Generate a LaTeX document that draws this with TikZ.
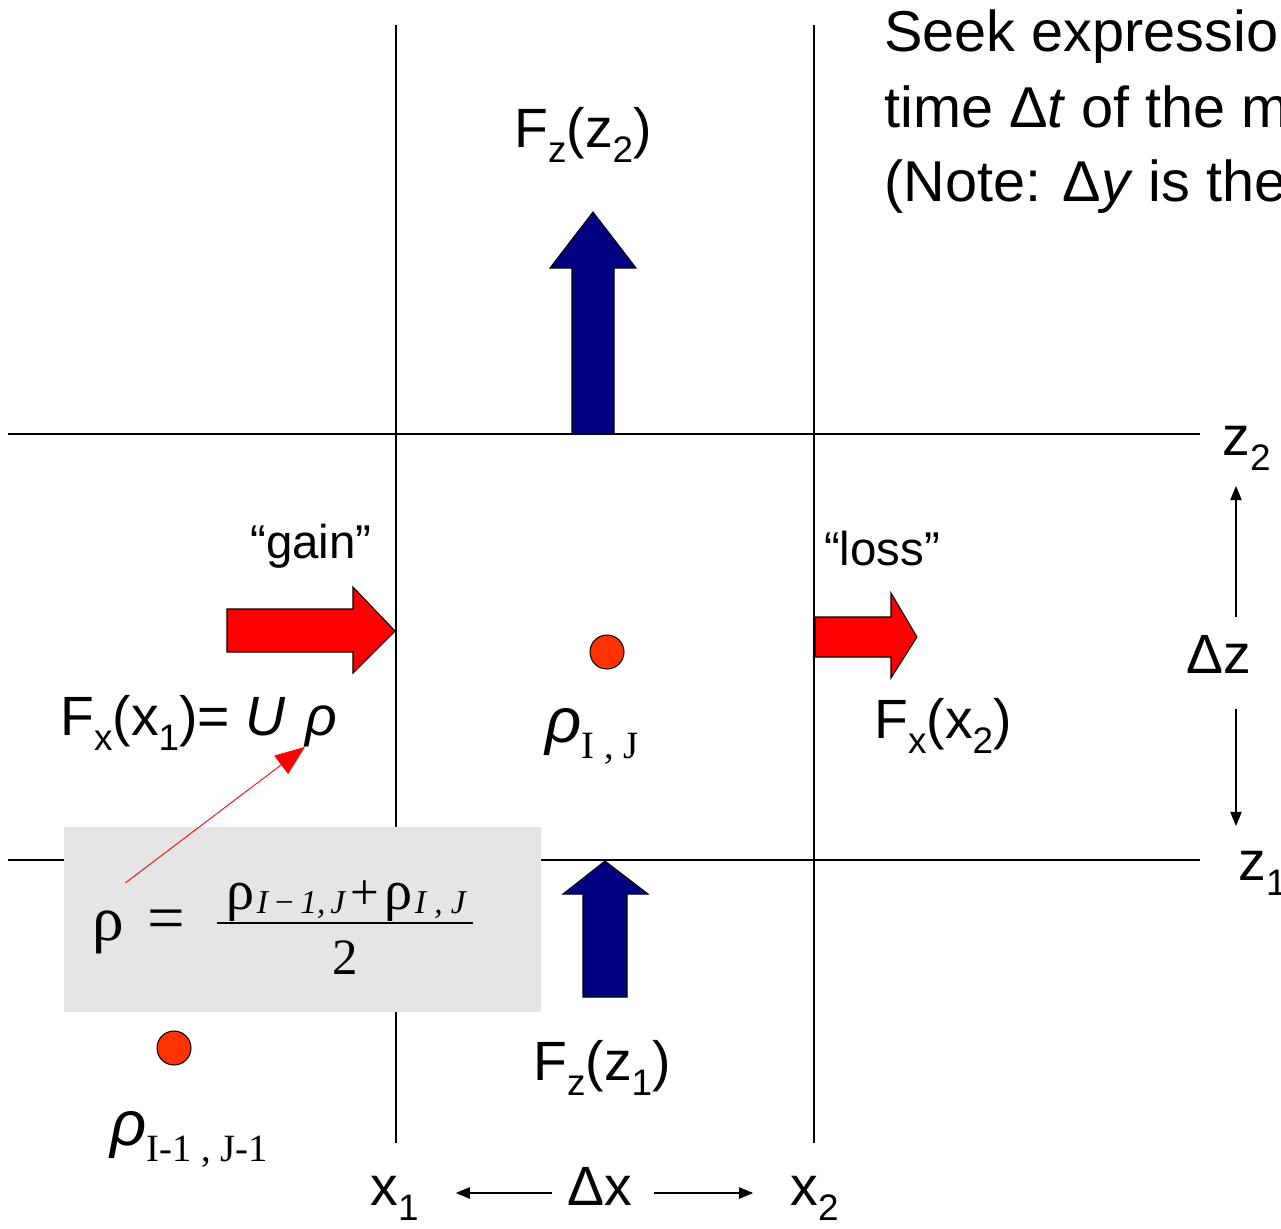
\documentclass[tikz,border=0pt]{standalone}
\usepackage{fontspec}
\setmainfont{Liberation Sans}
\newfontfamily\serifgr{Liberation Serif}
\usetikzlibrary{arrows.meta}

\definecolor{fluxblue}{RGB}{0,0,128}
\definecolor{cellred}{RGB}{255,51,0}
\newcommand{\lowsub}[1]{\raisebox{-0.3em}{\fontsize{22}{23}\selectfont #1}}
\newcommand{\fracsub}[1]{\raisebox{-0.08em}{\fontsize{19}{20}\selectfont\itshape #1}}
\newcommand{\sansub}[1]{\raisebox{-0.28em}{\fontsize{21}{22}\selectfont #1}}
\newcommand{\bigrho}{{\fontsize{36}{40}\selectfont\textit{ρ}}}
\newcommand{\boxrho}{{\fontsize{36}{40}\selectfont ρ}}
\newcommand{\numrho}{{\fontsize{32}{36}\selectfont ρ}}

\tikzset{
  biglabel/.style={font=\fontsize{31.5}{37}\selectfont, inner sep=0pt},
  notelabel/.style={font=\fontsize{32.8}{39}\selectfont, inner sep=0pt},
  quotelabel/.style={font=\fontsize{27}{32}\selectfont, inner sep=0pt},
  gridline/.style={line width=1pt},
  fluxz/.style={draw=black, fill=fluxblue, line width=0.6pt},
  fluxx/.style={draw=black, fill=red, line width=0.6pt},
  cell/.style={circle, draw=black, fill=cellred, line width=0.6pt, minimum size=0.68cm, inner sep=0pt},
  span/.style={-{Triangle[length=8pt,width=6.5pt]}, line width=0.6pt},
  serifmath/.style={font=\fontsize{29}{34}\selectfont\serifgr, inner sep=0pt}
}

\begin{document}
\begin{tikzpicture}[>=stealth, x=0.02cm, y=-0.02cm]
        \clip (0,0) rectangle (1281,1228);

        % Grid lines
        \foreach \xx in {396, 814} {
            \draw[gridline] (\xx, 25) -- (\xx, 1143);
        }
        \foreach \zz in {434, 860} {
            \draw[gridline] (8, \zz) -- (1200, \zz);
        }

        % Note text (cut at the right edge)
        \node[notelabel, anchor=base west] (note1) at (884, 51) {Seek expressio};
        \node[notelabel, anchor=base west] (note2) at (884, 127) {time \symbol{"0394}\textit{t} of the m};
        \node[notelabel, anchor=base west] (note3) at (884, 201) {(Note: \symbol{"0394}\textit{y} is the};

        % Vertical fluxes
        \draw[fluxz] (572, 434) -- (572, 268) -- (550, 268) -- (593, 212) -- (636, 268) -- (614, 268) -- (614, 434) -- cycle;
        \node[biglabel, anchor=base] (fzup) at (583, 147) {F\sansub{z}(z\sansub{2})};
        \draw[fluxz] (583, 997) -- (583, 894) -- (563, 894) -- (605, 861) -- (648, 894) -- (627, 894) -- (627, 997) -- cycle;
        \node[biglabel, anchor=base] (fzdown) at (602, 1080) {F\sansub{z}(z\sansub{1})};

        % Horizontal fluxes
        \draw[fluxx] (227, 609) -- (353, 609) -- (353, 587) -- (395, 631) -- (353, 673) -- (353, 652) -- (227, 652) -- cycle;
        \node[quotelabel, anchor=base] (gain) at (311, 558) {“gain”};
        \draw[fluxx] (815, 617) -- (891, 617) -- (891, 593) -- (917, 637) -- (891, 678) -- (891, 657) -- (815, 657) -- cycle;
        \node[quotelabel, anchor=base] (loss) at (882, 565) {“loss”};
        \node[biglabel, anchor=base west] (fxin) at (60, 735) {F\sansub{x}(x\sansub{1})= \textit{U}};
        \node[biglabel, anchor=base west] (rhou) at (305, 735) {\textit{ρ}};
        \node[biglabel, anchor=base west] (fxout) at (874, 738) {F\sansub{x}(x\sansub{2})};

        % Cell centres
        \node[cell] (cellij) at (607, 652) {};
        \node[biglabel, anchor=base west] (rhoij) at (545, 742) {\bigrho{\serifgr\lowsub{I , J}}};
        \node[cell] (cellim) at (174, 1048) {};
        \node[biglabel, anchor=base west] (rhoim) at (110, 1145) {\bigrho{\serifgr\lowsub{I-1 , J-1}}};

        % Interface value
        \fill[gray!20] (64, 827) rectangle (541, 1012);
        \node[serifmath, anchor=base west] (rhobar) at (92, 940) {\boxrho};
        \node[serifmath, anchor=base] (eqsign) at (166, 940) {\fontsize{38}{40}\selectfont =};
        \node[serifmath, anchor=base] (numer) at (346, 909) {\numrho\hspace{0.05em}\fracsub{I\hspace{0.15em}−\hspace{0.15em}1,\hspace{0.15em}J}\hspace{0.1em}+\hspace{0.1em}\numrho\hspace{0.05em}\fracsub{I\hspace{0.25em},\hspace{0.25em}J}};
        \draw[line width=1.2pt] (217, 923) -- (473, 923);
        \node[serifmath, anchor=base] (denom) at (345, 974) {2};
        \draw[red, line width=0.5pt, -{Triangle[length=17pt,width=13pt]}] (rhobar.north east) ++(1,-27) -- (rhou.south west);

        % Spacings
        \node[biglabel, anchor=base west] (xone) at (370, 1205) {x\sansub{1}};
        \node[biglabel, anchor=base] (dx) at (600, 1205) {\symbol{"0394}x};
        \node[biglabel, anchor=base west] (xtwo) at (790, 1205) {x\sansub{2}};
        \draw[span, shorten <=9pt, shorten >=21pt] ([yshift=-4pt]dx.west) -- ([yshift=-4pt]dx.west -| xone.east);
        \draw[span, shorten <=12pt, shorten >=21pt] ([yshift=-4pt]dx.east) -- ([yshift=-4pt]dx.east -| xtwo.west);
        \node[biglabel, anchor=base west] (ztwo) at (1222, 455) {z\sansub{2}};
        \node[biglabel, anchor=base west] (zone) at (1238, 880) {z\sansub{1}};
        \node[biglabel, anchor=base] (dz) at (1219, 673) {\symbol{"0394}z};
        \coordinate (dzup) at (1236, 486);
        \coordinate (dzdown) at (1236, 826);
        \draw[span, shorten <=10pt] (dz.north -| dzup) -- (dzup);
        \draw[span, shorten <=20pt] (dz.south -| dzdown) -- (dzdown);
\end{tikzpicture}
\end{document}
